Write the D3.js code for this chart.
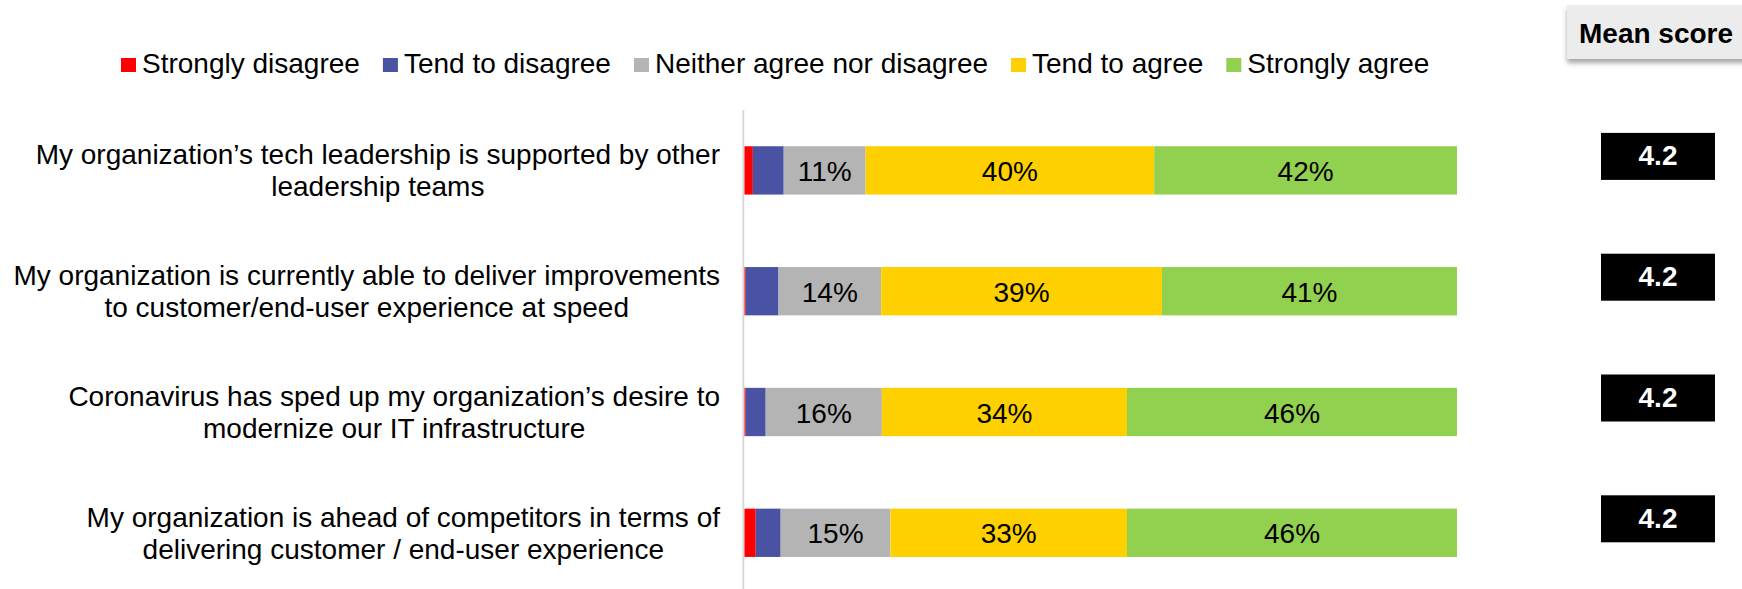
<!DOCTYPE html>
<html>
<head>
<meta charset="utf-8">
<script src="https://cdn.jsdelivr.net/npm/d3@7"></script>
<style>
  html, body { margin: 0; padding: 0; background: #fff; }
  svg { display: block; font-family: "Liberation Sans", Arial, sans-serif; }
</style>
</head>
<body>
<svg id="chart" width="1742" height="589"></svg>
<script>
// Survey statements (one array of lines per statement)
const statements = [
  ["My organization\u2019s tech leadership is supported by other", "leadership teams"],
  ["My organization is currently able to deliver improvements", "to customer/end-user experience at speed"],
  ["Coronavirus has sped up my organization\u2019s desire to", "modernize our IT infrastructure"],
  ["My organization is ahead of competitors in terms of", "delivering customer / end-user experience"]
];

// Response categories, in stacking order
const responses = ["Strongly disagree", "Tend to disagree", "Neither agree nor disagree", "Tend to agree", "Strongly agree"];
const responseColors = ["#ff0000", "#4a53a3", "#b4b4b4", "#ffd000", "#92d050"];

// Share of respondents (%) per statement, one array per response
const stronglyDisagree = [1.2, 0.2, 0.2, 1.6];
const tendToDisagree   = [4.33, 4.6, 2.8, 3.5];
const neitherNor       = [11.49, 14.4, 16.3, 15.4];
const tendToAgree      = [40.49, 39.4, 34.4, 33.2];
const stronglyAgree    = [42.49, 41.4, 46.3, 46.3];

// Mean score per statement (1-5 scale)
const meanScores = [4.2, 4.2, 4.2, 4.2];

const seriesValues = [stronglyDisagree, tendToDisagree, neitherNor, tendToAgree, stronglyAgree];
const rows = statements.map((s, i) => {
  const r = { key: i };
  responses.forEach((name, j) => { r[name] = seriesValues[j][i]; });
  return r;
});

const svg = d3.select("#chart");
const FONT = 28;

const x = d3.scaleLinear().domain([0, 100]).range([744.3, 1457]);
const y = d3.scaleBand()
  .domain(statements.map((s, i) => i))
  .range([110, 593.2])
  .paddingInner(0.6)
  .paddingOuter(0.3);

const color = d3.scaleOrdinal().domain(responses).range(responseColors);
const stacked = d3.stack().keys(responses)(rows);

// Stacked bars
const layers = svg.append("g").selectAll("g")
  .data(stacked)
  .join("g")
  .attr("fill", d => color(d.key));

layers.selectAll("rect")
  .data(d => d)
  .join("rect")
  .attr("x", d => x(d[0]))
  .attr("y", d => y(d.data.key))
  .attr("width", d => x(d[1]) - x(d[0]))
  .attr("height", y.bandwidth());

// Percentage labels on the three larger segments
layers.filter((d, i) => i >= 2)
  .selectAll("text")
  .data(d => d)
  .join("text")
  .attr("x", d => (x(d[0]) + x(d[1])) / 2)
  .attr("y", d => y(d.data.key) + y.bandwidth() / 2 + 10.5)
  .attr("text-anchor", "middle")
  .attr("font-size", 28)
  .attr("fill", "#000")
  .text(d => Math.round(d[1] - d[0]) + "%");

// Baseline of the bars
svg.append("line")
  .attr("x1", 743.3).attr("x2", 743.3)
  .attr("y1", 110).attr("y2", 589)
  .attr("stroke", "#d9d9d9")
  .attr("stroke-width", 2);

// Statement labels: block right-aligned, lines centred within it
const labelRight = 720;
statements.forEach((lines, i) => {
  const cy = y(i) + y.bandwidth() / 2;
  const t = svg.append("text")
    .attr("font-size", FONT)
    .attr("fill", "#000")
    .attr("text-anchor", "middle");
  const spans = lines.map((line, k) =>
    t.append("tspan").attr("y", cy - 6 + k * 31.7).text(line));
  const w = d3.max(spans, s => s.node().getComputedTextLength());
  spans.forEach(s => s.attr("x", labelRight - w / 2));
});

// Legend
const legend = svg.append("g");
let lx = 121;
responses.forEach((name, j) => {
  legend.append("rect")
    .attr("x", lx).attr("y", 58)
    .attr("width", 15).attr("height", 14)
    .attr("fill", responseColors[j]);
  const t = legend.append("text")
    .attr("x", lx + 21).attr("y", 73.3)
    .attr("font-size", 28)
    .attr("fill", "#000")
    .text(name);
  lx += 21 + t.node().getComputedTextLength() + 23;
});

// "Mean score" header with soft shadow
const defs = svg.append("defs");
const f = defs.append("filter").attr("id", "shadow")
  .attr("x", "-10%").attr("y", "-20%").attr("width", "130%").attr("height", "160%");
f.append("feDropShadow")
  .attr("dx", 0).attr("dy", 4).attr("stdDeviation", 2.5)
  .attr("flood-color", "#000").attr("flood-opacity", 0.35);

svg.append("rect")
  .attr("x", 1567).attr("y", 5)
  .attr("width", 190).attr("height", 54)
  .attr("fill", "#ececec")
  .attr("filter", "url(#shadow)");
svg.append("text")
  .attr("x", 1579).attr("y", 43)
  .attr("font-size", FONT)
  .attr("font-weight", "bold")
  .attr("fill", "#000")
  .text("Mean score");

// Mean score badges
const badges = svg.append("g").selectAll("g")
  .data(meanScores)
  .join("g")
  .attr("transform", (d, i) => `translate(1601, ${y(i) + y.bandwidth() / 2 - 14})`);
badges.append("rect")
  .attr("x", 0).attr("y", -23.5)
  .attr("width", 114).attr("height", 47)
  .attr("fill", "#000");
badges.append("text")
  .attr("x", 57).attr("y", 9)
  .attr("text-anchor", "middle")
  .attr("font-size", FONT)
  .attr("font-weight", "bold")
  .attr("fill", "#fff")
  .text(d => d3.format(".1f")(d));
</script>
</body>
</html>
